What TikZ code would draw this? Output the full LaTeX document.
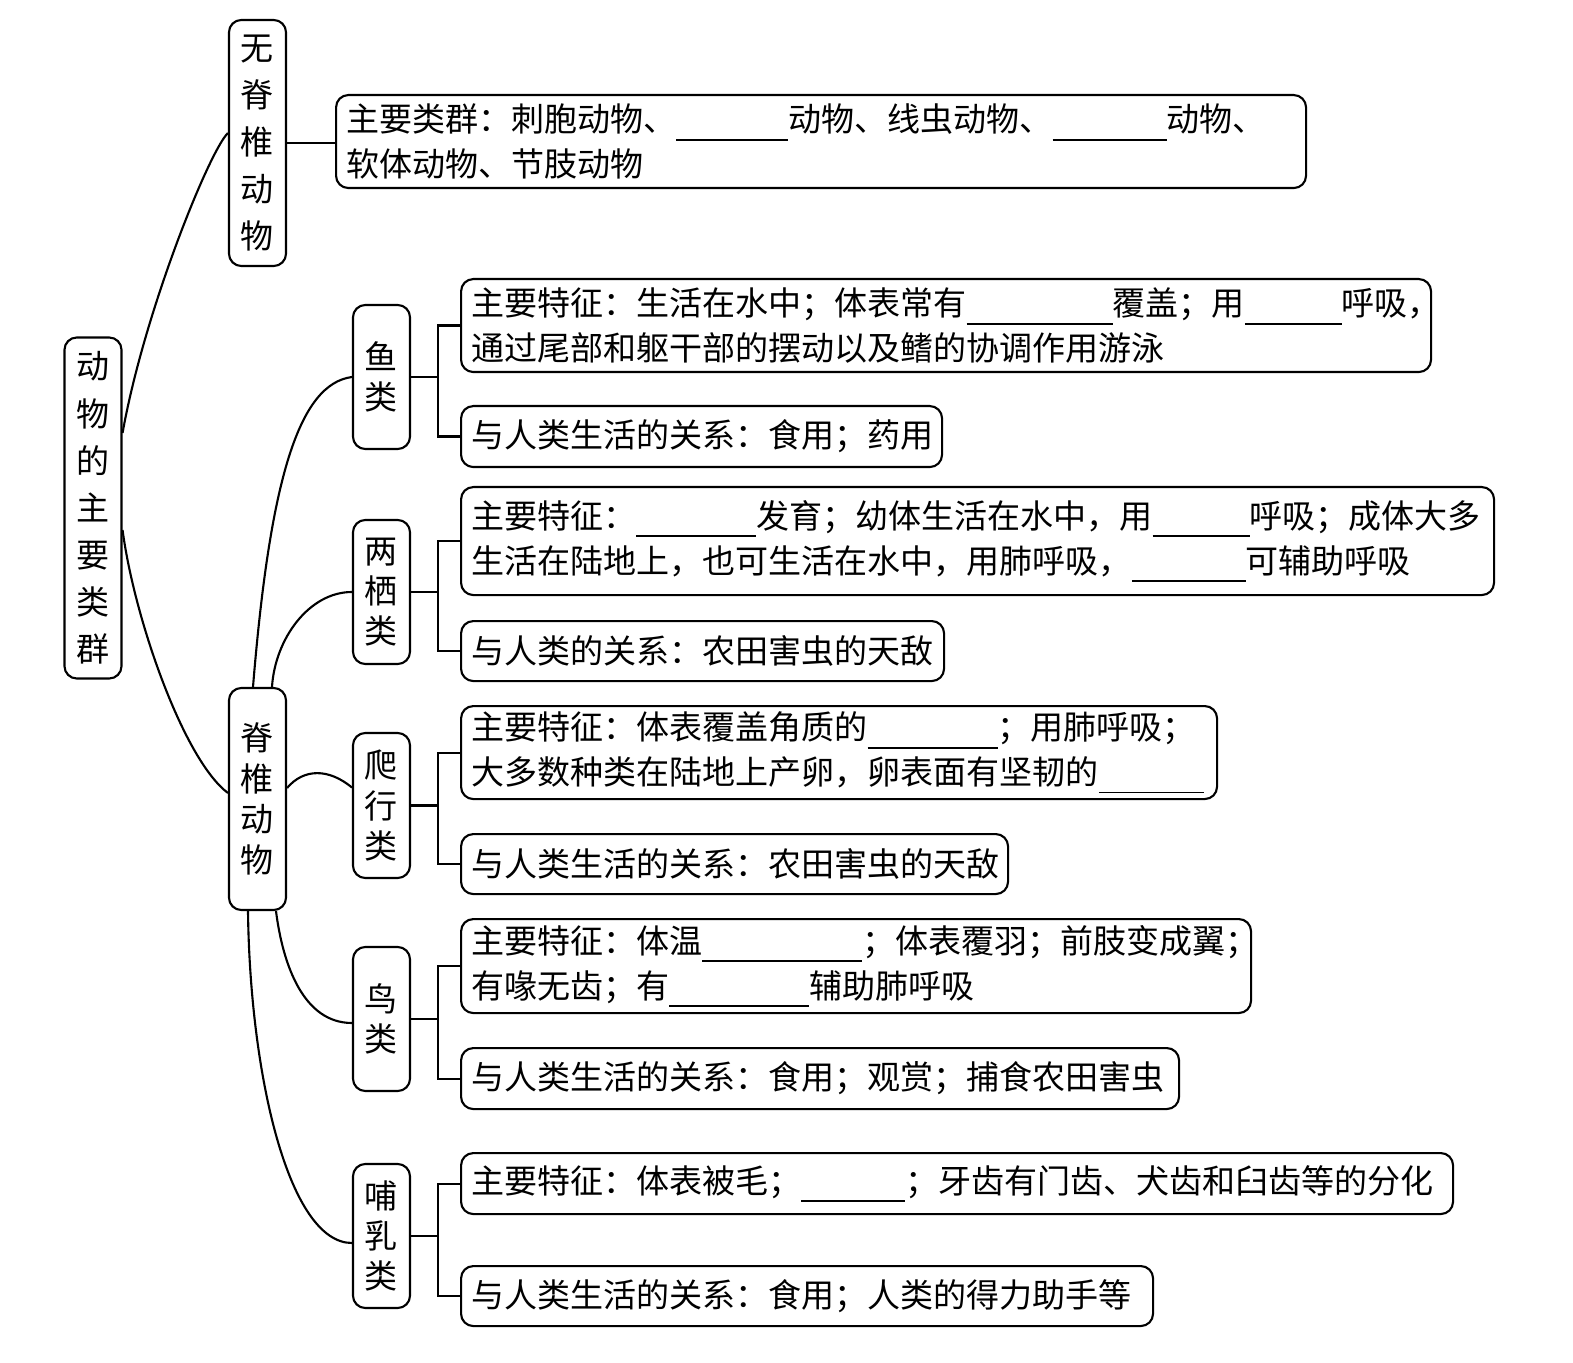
\documentclass[tikz,border=0pt]{standalone}
\usepackage{fontspec}
\newfontfamily\cjk{Noto Sans CJK SC}
\usepackage{tikz}
\newcommand\blank[1]{\rule[-0.09cm]{#1cm}{0.5pt}}
\tikzset{
	groupbox/.style={draw, rounded corners=3.5pt, minimum width=0.57cm, inner sep=0pt, align=center, font=\cjk\fontsize{9.4}{11.4}\selectfont},
	widebox/.style={groupbox, font=\cjk\fontsize{9.4}{13.4}\selectfont},
	infobox/.style={draw, rounded corners=3.5pt, anchor=north west, align=left, inner xsep=0.1cm, inner ysep=0pt, font=\cjk\fontsize{9.4}{12.8}\selectfont},
}

\begin{document}
\begin{tikzpicture}[line width=0.6pt]
	\useasboundingbox (0,0) rectangle (15.73,-13.63);
	% Groups:
	\node[widebox, minimum height=3.41cm](root) at (0.93, -5.08){动\\物\\的\\主\\要\\类\\群};
	\node[widebox, minimum height=2.46cm](wuji) at (2.575, -1.43){无\\脊\\椎\\动\\物};
	\node[groupbox, minimum height=2.22cm, font=\cjk\fontsize{9.4}{11.6}\selectfont](jizhui) at (2.575, -7.99){脊\\椎\\动\\物};
	\node[groupbox, minimum height=1.44cm](yu) at (3.815, -3.77){鱼\\类};
	\node[groupbox, minimum height=1.44cm](liangqi) at (3.815, -5.92){两\\栖\\类};
	\node[groupbox, minimum height=1.45cm](paxing) at (3.815, -8.055){爬\\行\\类};
	\node[groupbox, minimum height=1.44cm](niao) at (3.815, -10.19){鸟\\类};
	\node[groupbox, minimum height=1.44cm](buru) at (3.815, -12.36){哺\\乳\\类};
	% Text boxes:
	\node[infobox, text width=9.50cm, minimum height=0.93cm](wujiT) at (3.35, -0.94){主要类群：刺胞动物、\blank{1.12}动物、线虫动物、\blank{1.14}动物、\\软体动物、节肢动物};
	\node[infobox, text width=9.50cm, minimum height=0.93cm](yuA) at (4.60, -2.78){主要特征：生活在水中；体表常有\blank{1.46}覆盖；用\blank{0.97}呼吸，\\通过尾部和躯干部的摆动以及鳍的协调作用游泳};
	\node[infobox, text width=4.61cm, minimum height=0.61cm](yuB) at (4.60, -4.05){与人类生活的关系：食用；药用};
	\node[infobox, text width=10.13cm, minimum height=1.08cm](liangqiA) at (4.60, -4.86){主要特征：\blank{1.2}发育；幼体生活在水中，用\blank{0.97}呼吸；成体大多\\生活在陆地上，也可生活在水中，用肺呼吸，\blank{1.14}可辅助呼吸};
	\node[infobox, text width=4.63cm, minimum height=0.60cm](liangqiB) at (4.60, -6.20){与人类的关系：农田害虫的天敌};
	\node[infobox, text width=7.36cm, minimum height=0.93cm](paxingA) at (4.60, -7.05){主要特征：体表覆盖角质的\blank{1.3}；用肺呼吸；\\大多数种类在陆地上产卵，卵表面有坚韧的\blank{1.05}};
	\node[infobox, text width=5.27cm, minimum height=0.60cm](paxingB) at (4.60, -8.33){与人类生活的关系：农田害虫的天敌};
	\node[infobox, text width=7.70cm, minimum height=0.94cm](niaoA) at (4.60, -9.18){主要特征：体温\blank{1.6}；体表覆羽；前肢变成翼；\\有喙无齿；有\blank{1.4}辅助肺呼吸};
	\node[infobox, text width=6.98cm, minimum height=0.61cm](niaoB) at (4.60, -10.47){与人类生活的关系：食用；观赏；捕食农田害虫};
	\node[infobox, text width=9.72cm, minimum height=0.61cm](buruA) at (4.60, -11.52){主要特征：体表被毛；\blank{1.04}；牙齿有门齿、犬齿和臼齿等的分化};
	\node[infobox, text width=6.72cm, minimum height=0.60cm](buruB) at (4.60, -12.65){与人类生活的关系：食用；人类的得力助手等};
	% Curves:
	\draw ([yshift=0.75cm]root.east) .. controls +(0.22,1.23) and +(-0.18,-0.17) .. ([yshift=0.10cm]wuji.west);
	\draw ([yshift=-0.22cm]root.east) .. controls +(0.12,-0.90) and +(-0.44,0.33) .. ([yshift=0.06cm]jizhui.west);
	\draw ([xshift=-0.045cm]jizhui.north) .. controls +(0.17,2.08) and +(-0.53,-0.07) .. (yu.west);
	\draw ([xshift=0.145cm]jizhui.north) .. controls +(0.03,0.48) and +(-0.43,0) .. (liangqi.west);
	\draw ([yshift=0.11cm]jizhui.east) .. controls +(0.17,0.20) and +(-0.23,0.19) .. ([yshift=0.18cm]paxing.west);
	\draw ([xshift=0.185cm]jizhui.south) .. controls +(0.07,-0.55) and +(-0.48,0) .. ([yshift=-0.04cm]niao.west);
	\draw ([xshift=-0.095cm]jizhui.south) .. controls +(0.02,-1.65) and +(-0.63,0) .. ([yshift=-0.07cm]buru.west);
	% Brackets:
	\draw (wuji.east) -- (wuji.east -| wujiT.west);
	\draw (yu.east) -- ++(0.265,0) coordinate (yuJ) |- (yuA.west) (yuJ) |- (yuB.west);
	\draw (liangqi.east) -- ++(0.265,0) coordinate (liangqiJ) |- (liangqiA.west) (liangqiJ) |- (liangqiB.west);
	\draw (paxing.east) -- ++(0.265,0) coordinate (paxingJ) |- (paxingA.west) (paxingJ) |- (paxingB.west);
	\draw (niao.east) -- ++(0.265,0) coordinate (niaoJ) |- (niaoA.west) (niaoJ) |- (niaoB.west);
	\draw (buru.east) -- ++(0.265,0) coordinate (buruJ) |- (buruA.west) (buruJ) |- (buruB.west);
\end{tikzpicture}
\end{document}
